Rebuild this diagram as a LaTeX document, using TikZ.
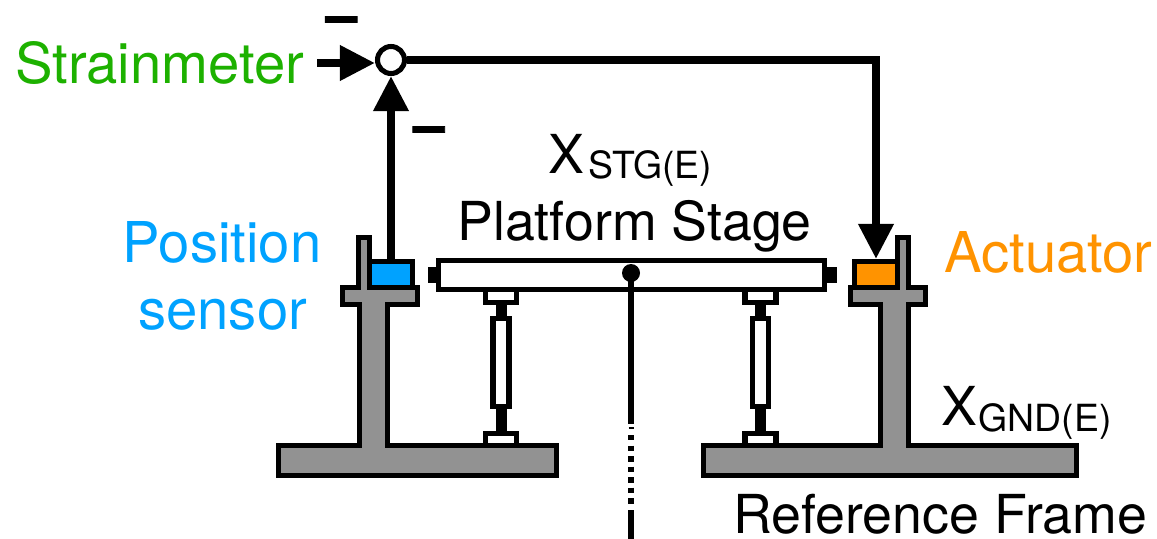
\documentclass[tikz,border=0pt]{standalone}
\usepackage{fontspec}
\setmainfont{TeX Gyre Heros}
\newfontfamily\minusfont[FakeBold=1.5]{TeX Gyre Heros Bold}
\usetikzlibrary{arrows.meta}
\definecolor{framegray}{HTML}{929292}
\definecolor{sensorblue}{HTML}{00A2FF}
\definecolor{actorange}{HTML}{FF9300}
\definecolor{straingreen}{HTML}{1DB100}
\newcommand{\bigtext}{\fontsize{38.2}{38.2}\selectfont}
\newcommand{\colortext}{\fontsize{40}{40}\selectfont}
\newcommand{\subtext}{\fontsize{26.6}{26.6}\selectfont}

\begin{document}
\begin{tikzpicture}[x=0.025cm,y=-0.025cm]
	\tikzset{part/.style={draw=black,line width=3.6pt,miter limit=10},
		label/.style={inner sep=0pt,font=\bigtext,anchor=base west},
		feedback/.style={line width=5.7pt,-{Triangle[length=25pt,width=24pt]}},
		box/.style={part,rectangle,inner sep=0pt,minimum width=30.6pt,minimum height=18.5pt},
		minus/.style={inner sep=0pt,font=\fontsize{40}{40}\selectfont\minusfont,anchor=base}}
	\useasboundingbox (0,0) rectangle (1157,539);
	
	% Left frame
	\draw[part,fill=framegray] (278.5,445.5) -- (359.5,445.5) -- (359.5,304.5) -- (342.5,304.5) -- (342.5,287.5) -- (358.5,287.5) -- (358.5,237.5) -- (369.5,237.5) -- (369.5,287.5) -- (417.5,287.5) -- (417.5,304.5) -- (387.5,304.5) -- (387.5,445.5) -- (556.5,445.5) -- (556.5,475.5) -- (278.5,475.5) -- cycle;
	
	% Right frame
	\draw[part,fill=framegray] (703.5,445.5) -- (880.5,445.5) -- (880.5,304.5) -- (850.5,304.5) -- (850.5,287.5) -- (897.5,287.5) -- (897.5,237.5) -- (908.5,237.5) -- (908.5,287.5) -- (925.5,287.5) -- (925.5,304.5) -- (908.5,304.5) -- (908.5,445.5) -- (1076.5,445.5) -- (1076.5,475.5) -- (703.5,475.5) -- cycle;
	
	% Legs under the stage
	\foreach \legx in {501,760.5}
	{
		\fill (\legx-5.5,302) rectangle (\legx+5.5,320); % upper neck
		\fill (\legx-5.5,405) rectangle (\legx+5.5,434); % lower neck
		\draw[part,fill=white] (\legx-15.5,289.5) rectangle (\legx+15.5,302.5); % upper pad
		\draw[part,fill=white] (\legx-15.5,433.5) rectangle (\legx+15.5,445.5); % lower pad
		\draw[part,fill=white] (\legx-8,318.5) rectangle (\legx+8,406.5); % body
	}
	
	% Stage and its end stubs
	\fill (428,267) rectangle (438,283);
	\fill (825,267) rectangle (837,283);
	\draw[part,fill=white] (438.5,260.5) rectangle (824.5,289.5);
	
	% Pivot and its rod
	\fill (631,273) circle (9);
	\draw[line width=3.6pt] (631,273) -- (631,424);
	\draw[line width=0.8pt] (628.5,428) -- (633.5,428);
	\draw[line width=3.6pt,dash pattern=on 3.9pt off 3.6pt] (631,435) -- (631,506);
	\draw[line width=3.6pt] (631,510) -- (631,539);
	
	% Sensor, actuator and the summing point
	\node[box,fill=sensorblue] (sensor) at (391,274.5) {};
	\node[box,fill=actorange] (actuator) at (876,274.5) {};
	\node[part,circle,fill=white,inner sep=0pt,minimum size=19.2pt] (sum) at (391,60) {};
	\coordinate (strainin) at (317,63);
	
	% Feedback loop
	\draw[feedback] (strainin) -- (sum.west |- strainin);
	\draw[feedback] (sensor.north) -- (sum.south);
	\draw[feedback] (sum.east) -| (actuator.north);
	
	% Labels
	\node[label,font=\colortext,text=straingreen] (strain) at (15,83) {Strainmeter};
	\node[label,font=\colortext,text=sensorblue] (position) at (122.5,262) {Position};
	\node[label,font=\colortext,text=sensorblue] (sensorname) at (138,329) {sensor};
	\node[label,font=\colortext,text=actorange] (actname) at (944,272) {Actuator};
	\node[label] (xstg) at (548,173) {X};
	\node[label,font=\subtext] (xstgsub) at (588,178) {STG(E)};
	\node[label] (stage) at (457,240) {Platform Stage};
	\node[label] (xgnd) at (941,425) {X};
	\node[label,font=\subtext] (xgndsub) at (978.5,431) {GND(E)};
	\node[label] (reference) at (733,533) {Reference Frame};
	\node[minus] (minustop) at (341.5,34) {–};
	\node[minus] (minusside) at (429,144) {–};
\end{tikzpicture}
\end{document}
